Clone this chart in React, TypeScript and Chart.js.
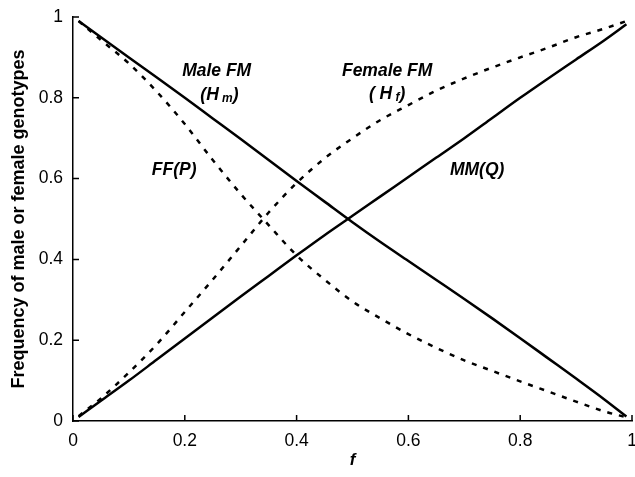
import React, { useEffect, useRef } from "react";
import { Chart, registerables } from "chart.js";

Chart.register(...registerables);

const fValues = [0.01, 0.05, 0.1, 0.15, 0.2, 0.25, 0.3, 0.35, 0.4, 0.45, 0.5, 0.55, 0.6, 0.65, 0.7, 0.75, 0.8, 0.85, 0.9, 0.95, 0.99];
const maleFM = [0.99, 0.95, 0.9, 0.85, 0.8, 0.749, 0.698, 0.646, 0.594, 0.543, 0.492, 0.443, 0.396, 0.349, 0.302, 0.254, 0.205, 0.155, 0.105, 0.054, 0.011];
const mmQ = [0.01, 0.05, 0.1, 0.152, 0.204, 0.256, 0.308, 0.359, 0.41, 0.46, 0.508, 0.556, 0.604, 0.652, 0.7, 0.75, 0.8, 0.848, 0.895, 0.942, 0.982];
const ffP = [0.99, 0.943, 0.885, 0.815, 0.735, 0.646, 0.562, 0.485, 0.41, 0.35, 0.296, 0.254, 0.215, 0.181, 0.15, 0.124, 0.098, 0.073, 0.048, 0.024, 0.009];
const femaleFM = [0.012, 0.056, 0.12, 0.19, 0.27, 0.35, 0.433, 0.516, 0.589, 0.65, 0.7, 0.745, 0.782, 0.818, 0.848, 0.875, 0.9, 0.924, 0.95, 0.971, 0.99];

const xTickValues = [0, 0.2, 0.4, 0.6, 0.8, 1];
const xTickLabels = ["0", "0.2", "0.4", "0.6", "0.8", "1"];
const yTickValues = [0, 0.2, 0.4, 0.6, 0.8, 1];
const yTickLabels = ["0", "0.2", "0.4", "0.6", "0.8", "1"];

const xTitle = "f";
const yTitle = "Frequency of male or female genotypes";

type Seg = { t: string; sub?: boolean };
const annotations: { x: number; y: number; segs: Seg[] }[] = [
  { x: 0.257, y: 0.866, segs: [{ t: "Male FM" }] },
  { x: 0.262, y: 0.807, segs: [{ t: "(H" }, { t: " m", sub: true }, { t: ")" }] },
  { x: 0.181, y: 0.622, segs: [{ t: "FF" }, { t: "(" }, { t: "P" }, { t: ")" }] },
  { x: 0.562, y: 0.866, segs: [{ t: "Female FM" }] },
  { x: 0.562, y: 0.809, segs: [{ t: "( H" }, { t: " f", sub: true }, { t: ")" }] },
  { x: 0.723, y: 0.622, segs: [{ t: "MM" }, { t: "(" }, { t: "Q" }, { t: ")" }] },
];

const FONT = "'Liberation Sans', Arial, sans-serif";

const toPts = (ys: number[]) => fValues.map((x, i) => ({ x, y: ys[i] }));

const insideTicks = {
  id: "insideTicks",
  afterDraw(chart: any) {
    const ctx = chart.ctx;
    const { x, y } = chart.scales;
    const area = chart.chartArea;
    ctx.save();
    ctx.strokeStyle = "#000";
    ctx.lineWidth = 1.5;
    ctx.beginPath();
    xTickValues.forEach((v) => {
      const px = x.getPixelForValue(v);
      ctx.moveTo(px, area.bottom);
      ctx.lineTo(px, area.bottom - 6);
    });
    yTickValues.forEach((v) => {
      const py = y.getPixelForValue(v);
      ctx.moveTo(area.left, py);
      ctx.lineTo(area.left + 6, py);
    });
    ctx.stroke();
    ctx.restore();
  },
};

const labelsPlugin = {
  id: "labelsPlugin",
  afterDraw(chart: any) {
    const ctx = chart.ctx;
    const { x, y } = chart.scales;
    ctx.save();
    ctx.fillStyle = "#000";
    ctx.textBaseline = "middle";
    ctx.textAlign = "left";
    const mainFont = `italic bold 17.5px ${FONT}`;
    const subFont = `italic bold 12px ${FONT}`;
    annotations.forEach((a) => {
      const cx = x.getPixelForValue(a.x);
      const cy = y.getPixelForValue(a.y);
      let total = 0;
      const widths = a.segs.map((s) => {
        ctx.font = s.sub ? subFont : mainFont;
        const w = ctx.measureText(s.t).width;
        total += w;
        return w;
      });
      let px = cx - total / 2;
      a.segs.forEach((s, i) => {
        ctx.font = s.sub ? subFont : mainFont;
        ctx.fillText(s.t, px, s.sub ? cy + 4 : cy);
        px += widths[i];
      });
    });
    ctx.restore();
  },
};

export default function App() {
  const ref = useRef<HTMLCanvasElement | null>(null);
  useEffect(() => {
    if (!ref.current) return;
    Chart.defaults.font.family = FONT;
    Chart.defaults.color = "#000";
    const solid = { borderColor: "#000", borderWidth: 2.5, pointRadius: 0, fill: false, cubicInterpolationMode: "monotone" };
    const dashed = { ...solid, borderWidth: 2.5, borderDash: [5, 7] };
    const chart = new Chart(ref.current, {
      type: "line",
      data: {
        datasets: [
          { label: "Male FM (Hm)", data: toPts(maleFM), ...solid },
          { label: "MM (Q)", data: toPts(mmQ), ...solid },
          { label: "FF (P)", data: toPts(ffP), ...dashed },
          { label: "Female FM (Hf)", data: toPts(femaleFM), ...dashed },
        ],
      },
      options: {
        animation: false,
        responsive: false,
        devicePixelRatio: 1,
        layout: { padding: { left: 0, right: 3, top: 17, bottom: 0 } },
        plugins: { legend: { display: false }, tooltip: { enabled: false } },
        scales: {
          x: {
            type: "linear",
            min: 0,
            max: 1,
            grid: { display: false, drawTicks: false },
            border: { display: true, color: "#000", width: 1.5 },
            afterBuildTicks: (s: any) => {
              s.ticks = xTickValues.map((v) => ({ value: v }));
            },
            afterFit: (s: any) => {
              s.height = 56;
              s.paddingLeft = 0;
              s.paddingRight = 0;
            },
            ticks: {
              padding: 10,
              maxRotation: 0,
              font: { size: 17.5 },
              color: "#000",
              callback: (_v: any, i: number) => xTickLabels[i],
            },
            title: {
              display: true,
              text: xTitle,
              font: { size: 17, weight: "bold", style: "italic" },
              color: "#000",
              padding: { top: 0, bottom: 6 },
            },
          },
          y: {
            type: "linear",
            min: 0,
            max: 1,
            grid: { display: false, drawTicks: false },
            border: { display: true, color: "#000", width: 1.5 },
            afterBuildTicks: (s: any) => {
              s.ticks = yTickValues.map((v) => ({ value: v }));
            },
            afterFit: (s: any) => {
              s.width = 73;
              s.paddingTop = 0;
              s.paddingBottom = 0;
            },
            ticks: {
              padding: 10,
              font: { size: 17.5 },
              color: "#000",
              callback: (_v: any, i: number) => yTickLabels[i],
            },
            title: {
              display: true,
              text: yTitle,
              font: { size: 18, weight: "bold" },
              color: "#000",
              padding: { top: 8, bottom: 0 },
            },
          },
        },
      } as any,
      plugins: [insideTicks, labelsPlugin],
    });
    return () => chart.destroy();
  }, []);
  return (
    <div style={{ position: "fixed", left: 0, top: 0, width: 635, height: 477, background: "#fff" }}>
      <canvas ref={ref} width={635} height={477} style={{ width: 635, height: 477, display: "block" }} />
    </div>
  );
}
